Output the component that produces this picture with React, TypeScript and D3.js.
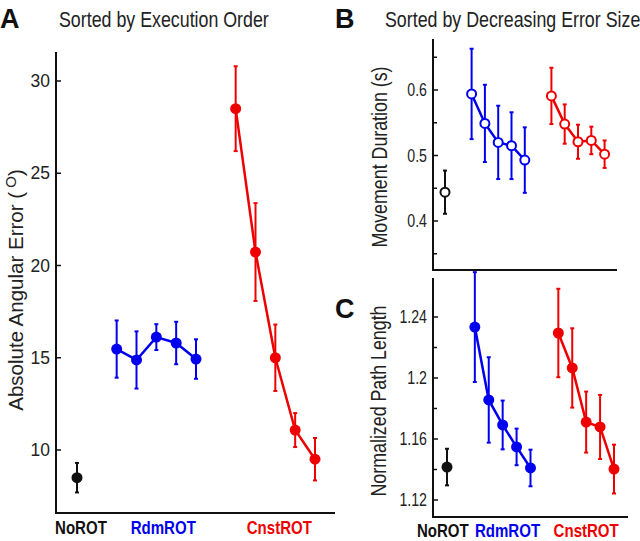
import React from "react";
import * as d3 from "d3";

// ---------- data ----------
const groups = ["NoROT", "RdmROT", "CnstROT"];
const groupColors = ["#111111", "#0000ee", "#ee0000"];
const noRotSlot = [0];
const rdmSlots = [2, 3, 4, 5, 6];
const cnstSlots = [8, 9, 10, 11, 12];

// Panel A: absolute angular error (deg), execution order
const noRotA = [8.5];
const noRotAErr = [0.8];
const rdmA = [15.47, 14.88, 16.12, 15.8, 14.93];
const rdmAErr = [1.55, 1.55, 0.7, 1.15, 1.07];
const cnstA = [28.5, 20.73, 15.0, 11.08, 9.5];
const cnstAErr = [2.3, 2.65, 1.8, 0.92, 1.15];
const ticksA = [10, 15, 20, 25, 30];

// Panel B: movement duration (s), decreasing error size
const noRotB = [0.444];
const noRotBErr = [0.033];
const rdmB = [0.594, 0.549, 0.52, 0.515, 0.493];
const rdmBErr = [0.069, 0.059, 0.056, 0.051, 0.05];
const cnstB = [0.591, 0.548, 0.521, 0.523, 0.502];
const cnstBErr = [0.043, 0.03, 0.026, 0.021, 0.021];
const ticksB = [0.4, 0.5, 0.6];
const minorB = [0.35, 0.45, 0.55, 0.65];

// Panel C: normalized path length
const noRotC = [1.1416];
const noRotCErr = [0.012];
const rdmC = [1.2334, 1.1856, 1.1692, 1.1548, 1.141];
const rdmCErr = [0.036, 0.028, 0.016, 0.012, 0.012];
const cnstC = [1.2295, 1.2066, 1.1711, 1.1679, 1.1403];
const cnstCErr = [0.029, 0.026, 0.02, 0.021, 0.016];
const ticksC = [1.12, 1.16, 1.2, 1.24];
const minorC = [1.14, 1.18, 1.22];

const SANS = "'Liberation Sans', Arial, Helvetica, sans-serif";
const NARROW_SCALE = 0.81;

// Condensed text: Liberation Sans squeezed horizontally
function NText(props: {
  x: number;
  y: number;
  size: number;
  rotate?: number;
  anchor?: "start" | "middle" | "end";
  dy?: string;
  scale?: number;
  bold?: boolean;
  fill?: string;
  children: React.ReactNode;
}) {
  const rot = props.rotate ? ` rotate(${props.rotate})` : "";
  return (
    <text
      transform={`translate(${props.x},${props.y})${rot} scale(${props.scale || NARROW_SCALE},1)`}
      textAnchor={props.anchor || "start"}
      dy={props.dy}
      fontFamily={SANS}
      fontWeight={props.bold ? "bold" : "normal"}
      fontSize={props.size}
      fill={props.fill || "#222"}
    >
      {props.children}
    </text>
  );
}

type Series = { slots: number[]; vals: number[]; errs: number[]; color: string; line: boolean };

function Panel(props: {
  x: d3.ScaleLinear<number, number>;
  y: d3.ScaleLinear<number, number>;
  axisX: number;
  axisTop: number;
  axisBottom: number;
  axisRight: number;
  ticks: number[];
  minor: number[];
  tickFmt: (v: number) => string;
  narrowTicks: boolean;
  tickSize: number;
  series: Series[];
  open: boolean;
  r: number;
}) {
  const { x, y, series, open, r } = props;
  const line = d3
    .line<[number, number]>()
    .x((d) => x(d[0]))
    .y((d) => y(d[1]));
  return (
    <g>
      {series.map((s, si) => (
        <g key={si}>
          {s.vals.map((v, i) => (
            <g key={i} stroke={s.color} strokeWidth={2}>
              <line x1={x(s.slots[i])} x2={x(s.slots[i])} y1={y(v + s.errs[i])} y2={y(v - s.errs[i])} />
              <line x1={x(s.slots[i]) - 2} x2={x(s.slots[i]) + 2} y1={y(v + s.errs[i])} y2={y(v + s.errs[i])} />
              <line x1={x(s.slots[i]) - 2} x2={x(s.slots[i]) + 2} y1={y(v - s.errs[i])} y2={y(v - s.errs[i])} />
            </g>
          ))}
          {s.line && (
            <path
              d={line(s.vals.map((v, i) => [s.slots[i], v] as [number, number])) || ""}
              fill="none"
              stroke={s.color}
              strokeWidth={2.5}
            />
          )}
          {s.vals.map((v, i) => (
            <circle
              key={"c" + i}
              cx={x(s.slots[i])}
              cy={y(v)}
              r={r}
              fill={open ? "white" : s.color}
              stroke={s.color}
              strokeWidth={open ? 2 : 0}
            />
          ))}
        </g>
      ))}
      {/* axes */}
      <line x1={props.axisX} x2={props.axisX} y1={props.axisTop} y2={props.axisBottom + 1} stroke="#111" strokeWidth={2} />
      <line x1={props.axisX - 1} x2={props.axisRight} y1={props.axisBottom} y2={props.axisBottom} stroke="#111" strokeWidth={2} />
      {props.ticks.map((t) => (
        <g key={t}>
          <line x1={props.axisX} x2={props.axisX + 5} y1={y(t)} y2={y(t)} stroke="#111" strokeWidth={1.5} />
          {props.narrowTicks ? (
            <NText x={props.axisX - 6} y={y(t)} dy="0.35em" anchor="end" size={props.tickSize}>
              {props.tickFmt(t)}
            </NText>
          ) : (
            <text
              x={props.axisX - 6}
              y={y(t)}
              dy="0.35em"
              textAnchor="end"
              fontFamily={SANS}
              fontSize={props.tickSize}
              fill="#222"
            >
              {props.tickFmt(t)}
            </text>
          )}
        </g>
      ))}
      {props.minor.map((t) => (
        <line key={"m" + t} x1={props.axisX} x2={props.axisX + 4} y1={y(t)} y2={y(t)} stroke="#111" strokeWidth={1.5} />
      ))}
    </g>
  );
}

export default function App() {
  // Panel A scales
  const xA = d3.scaleLinear().domain([0, 12]).range([77, 315]);
  const yA = d3.scaleLinear().domain([10, 30]).range([450, 81]);
  // Panel B scales
  const xB = d3.scaleLinear().domain([0, 12]).range([445, 604.6]);
  const yB = d3.scaleLinear().domain([0.4, 0.6]).range([221, 90]);
  // Panel C scales
  const xC = d3.scaleLinear().domain([0, 12]).range([447, 614]);
  const yC = d3.scaleLinear().domain([1.12, 1.24]).range([500, 317]);

  const mk = (a: number[], ae: number[], b: number[], be: number[], c: number[], ce: number[]): Series[] => [
    { slots: noRotSlot, vals: a, errs: ae, color: groupColors[0], line: false },
    { slots: rdmSlots, vals: b, errs: be, color: groupColors[1], line: true },
    { slots: cnstSlots, vals: c, errs: ce, color: groupColors[2], line: true },
  ];

  const labelSlotsA = [0.2, 4.35, 10.2];
  const labelSlotsC = [-0.3, 4.35, 10.0];

  return (
    <svg
      width={640}
      height={541}
      style={{ position: "absolute", left: 0, top: 0, background: "white" }}
    >
      <rect width={640} height={541} fill="white" />
      {/* Panel letters and titles */}
      <text x={0} y={28} fontFamily={SANS} fontWeight="bold" fontSize={27} fill="#111">A</text>
      <text x={335} y={28} fontFamily={SANS} fontWeight="bold" fontSize={27} fill="#111">B</text>
      <text x={335} y={318} fontFamily={SANS} fontWeight="bold" fontSize={27} fill="#111">C</text>
      <NText x={59} y={27} size={22}>Sorted by Execution Order</NText>
      <NText x={385} y={27} size={22}>Sorted by Decreasing Error Size</NText>

      {/* Y labels */}
      <text transform="translate(23,290) rotate(-90)" textAnchor="middle" fontFamily={SANS} fontSize={20.5} fill="#222">
        Absolute Angular Error (
        <tspan dy={-7} fontSize={15}> O</tspan>
        <tspan dy={7}>)</tspan>
      </text>
      <NText x={387} y={157} rotate={-90} anchor="middle" size={22}>
        Movement Duration (s)
      </NText>
      <NText x={386} y={401} rotate={-90} anchor="middle" size={22}>
        Normalized Path Length
      </NText>

      <Panel
        x={xA}
        y={yA}
        axisX={56}
        axisTop={52}
        axisBottom={513}
        axisRight={335}
        ticks={ticksA}
        minor={[]}
        tickFmt={(v) => String(v)}
        narrowTicks={false}
        tickSize={17.5}
        series={mk(noRotA, noRotAErr, rdmA, rdmAErr, cnstA, cnstAErr)}
        open={false}
        r={5.5}
      />
      <Panel
        x={xB}
        y={yB}
        axisX={433}
        axisTop={39}
        axisBottom={270}
        axisRight={617}
        ticks={ticksB}
        minor={minorB}
        tickFmt={(v) => String(v)}
        narrowTicks={true}
        tickSize={17.5}
        series={mk(noRotB, noRotBErr, rdmB, rdmBErr, cnstB, cnstBErr)}
        open={true}
        r={4.5}
      />
      <Panel
        x={xC}
        y={yC}
        axisX={433}
        axisTop={278}
        axisBottom={517}
        axisRight={628}
        ticks={ticksC}
        minor={minorC}
        tickFmt={(v) => String(v)}
        narrowTicks={true}
        tickSize={17.5}
        series={mk(noRotC, noRotCErr, rdmC, rdmCErr, cnstC, cnstCErr)}
        open={false}
        r={5.5}
      />

      {/* category labels */}
      {groups.map((g, i) => (
        <NText key={"la" + g} x={xA(labelSlotsA[i])} y={534} anchor="middle" bold size={17.5} scale={0.86} fill={groupColors[i]}>
          {g}
        </NText>
      ))}
      {groups.map((g, i) => (
        <NText key={"lc" + g} x={xC(labelSlotsC[i])} y={537} anchor="middle" bold size={17.5} scale={0.86} fill={groupColors[i]}>
          {g}
        </NText>
      ))}
    </svg>
  );
}
